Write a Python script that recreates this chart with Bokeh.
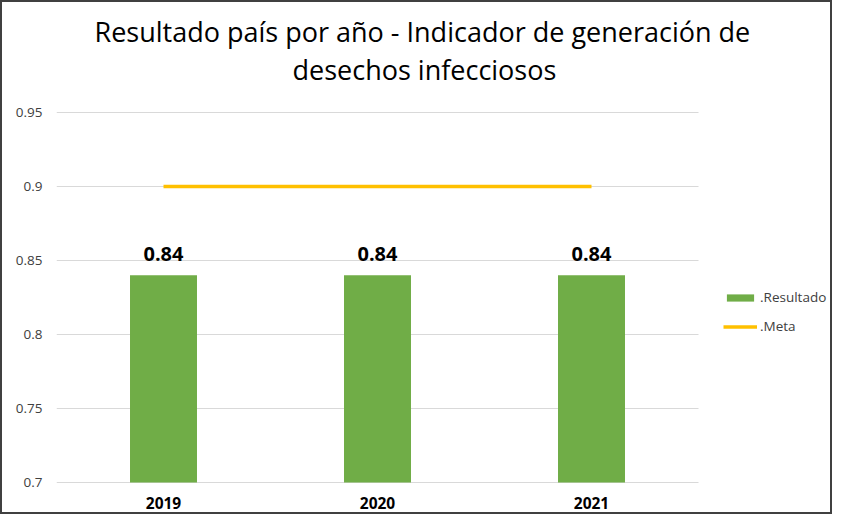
from bokeh.plotting import figure
from bokeh.models import (Legend, LegendItem, ColumnDataSource, LabelSet, Title,
                          FixedTicker, Range1d)
from bokeh.embed import file_html
from bokeh.resources import INLINE
from bokeh.core.properties import value

# ---- data ----
years = ["2019", "2020", "2021"]
resultado = [0.84, 0.84, 0.84]
meta = [0.9, 0.9, 0.9]
y_ticks = [0.7, 0.75, 0.8, 0.85, 0.9, 0.95]
title_line1 = "Resultado país por año - Indicador de generación de"
title_line2 = "desechos infecciosos"
series_names = [".Resultado", ".Meta"]

FONT = "Open Sans"

# category slots: each year occupies one unit, centred at i + 0.5
x_pos = [i + 0.5 for i in range(len(years))]

src = ColumnDataSource(dict(
    x=x_pos,
    res=resultado,
    meta=meta,
    lbl=[f"{v:.2f}" for v in resultado],
))

p = figure(x_range=Range1d(0, 3.6355), y_range=Range1d(0.699324, 0.951351),
           width=832, height=514, output_backend="svg", toolbar_location=None,
           min_border_left=54, min_border_right=0, min_border_top=108,
           min_border_bottom=33,
           styles={"border": "2px solid #404040"})

# second title line (closest to the plot)
p.add_layout(Title(text=title_line2, align="left", offset=236, vertical_align="top",
                   text_font=FONT, text_font_size="27px", text_font_style="normal",
                   text_color="#000000", standoff=40.6), "above")
# first (outer) title line
p.title.text = title_line1
p.title.align = "left"
p.title.offset = 38
p.title.text_font = FONT
p.title.text_font_size = "27px"
p.title.text_font_style = "normal"
p.title.text_color = "#000000"
p.title.standoff = -39

# horizontal grid lines across the category span
p.segment(x0=[0] * len(y_ticks), x1=[len(years)] * len(y_ticks),
          y0=y_ticks, y1=y_ticks, line_color="#D9D9D9", line_width=1)

bars = p.vbar(x="x", top="res", bottom=0.7, width=0.313, source=src,
              fill_color="#70AD47", line_color=None)
ln = p.line(x="x", y="meta", source=src, line_color="#FFC000", line_width=3.5)

labels = LabelSet(x="x", y="res", text="lbl", source=src, text_align="center",
                  text_baseline="alphabetic", y_offset=14, text_font=value(FONT),
                  text_font_size="20px", text_font_style="bold", text_color="#000000")
p.add_layout(labels)

# axes
p.yaxis.ticker = FixedTicker(ticks=y_ticks)
p.yaxis.axis_line_color = None
p.yaxis.major_tick_line_color = None
p.yaxis.minor_tick_line_color = None
p.yaxis.major_label_standoff = 8
p.yaxis.major_label_text_font = FONT
p.yaxis.major_label_text_font_size = "13.5px"
p.yaxis.major_label_text_color = "#404040"

p.xaxis.ticker = FixedTicker(ticks=x_pos)
p.xaxis.major_label_overrides = {xp: yr for xp, yr in zip(x_pos, years)}
p.xaxis.axis_line_color = None
p.xaxis.major_tick_line_color = None
p.xaxis.minor_tick_line_color = None
p.xaxis.major_label_standoff = 7
p.xaxis.major_label_text_font = FONT
p.xaxis.major_label_text_font_size = "15.5px"
p.xaxis.major_label_text_font_style = "bold"
p.xaxis.major_label_text_color = "#000000"

p.xgrid.grid_line_color = None
p.ygrid.grid_line_color = None
p.outline_line_color = None
p.background_fill_color = "white"
p.border_fill_color = "white"

legend = Legend(items=[LegendItem(label=series_names[0], renderers=[bars]),
                       LegendItem(label=series_names[1], renderers=[ln])],
                location=(667, 147), orientation="vertical",
                glyph_width=34, glyph_height=9, label_height=20, spacing=9,
                label_standoff=3, padding=0, margin=0,
                label_text_font=FONT, label_text_font_size="13.5px",
                label_text_color="#404040",
                border_line_color=None, background_fill_alpha=0)
p.add_layout(legend)

open("out.html", "w").write(file_html(p, INLINE))
